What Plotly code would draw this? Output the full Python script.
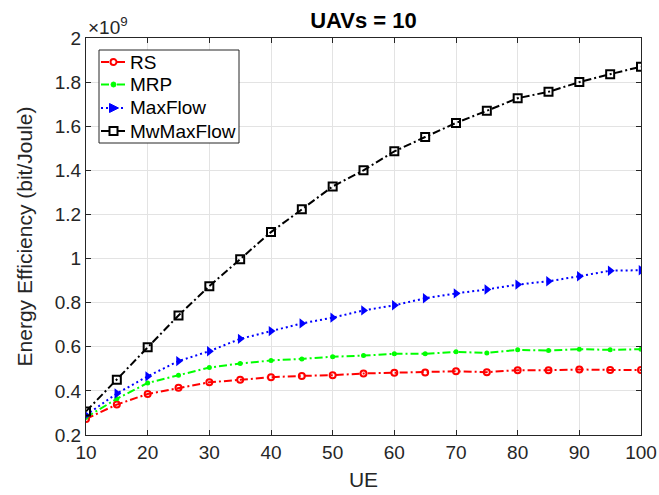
import plotly.graph_objects as go

ue = [10, 15, 20, 25, 30, 35, 40, 45, 50, 55, 60, 65, 70, 75, 80, 85, 90, 95, 100]
rs = [0.273, 0.338, 0.386, 0.414, 0.439, 0.450, 0.462, 0.468, 0.471, 0.479, 0.482, 0.483, 0.489, 0.485, 0.494, 0.494, 0.497, 0.495, 0.495]
mrp = [0.280, 0.364, 0.436, 0.471, 0.506, 0.524, 0.538, 0.545, 0.555, 0.560, 0.568, 0.568, 0.577, 0.572, 0.586, 0.583, 0.589, 0.586, 0.589]
maxflow = [0.290, 0.388, 0.466, 0.535, 0.580, 0.636, 0.671, 0.706, 0.732, 0.765, 0.788, 0.820, 0.842, 0.860, 0.882, 0.897, 0.920, 0.945, 0.947]
mwmaxflow = [0.307, 0.451, 0.598, 0.742, 0.875, 0.997, 1.120, 1.223, 1.327, 1.400, 1.486, 1.551, 1.615, 1.670, 1.727, 1.756, 1.800, 1.836, 1.870]

series_names = ["RS", "MRP", "MaxFlow", "MwMaxFlow"]
y_ticks = [0.2, 0.4, 0.6, 0.8, 1.0, 1.2, 1.4, 1.6, 1.8, 2.0]
y_ticklabels = ["0.2", "0.4", "0.6", "0.8", "1", "1.2", "1.4", "1.6", "1.8", "2"]
x_ticks = [10, 20, 30, 40, 50, 60, 70, 80, 90, 100]

FONT = "Liberation Sans, Arial, sans-serif"
W, H = 659, 495
ML, MR, MT, MB = 86, 18, 38, 60
PW, PH = W - ML - MR, H - MT - MB
DASHDOT = "8px,3px,2px,3px"

styles = [
    dict(line=dict(color="#FF0000", width=2, dash=DASHDOT),
         marker=dict(symbol="circle-open", size=6, color="#FF0000", line=dict(width=2))),
    dict(line=dict(color="#00FF00", width=2, dash=DASHDOT),
         marker=dict(symbol="circle", size=5, color="#00FF00")),
    dict(line=dict(color="#0000FF", width=2, dash="2px,3px"),
         marker=dict(symbol="triangle-right", size=9, color="#0000FF")),
    dict(line=dict(color="#000000", width=2, dash=DASHDOT),
         marker=dict(symbol="square-open", size=8, color="#000000", line=dict(width=2))),
]

fig = go.Figure()
for name, vals, st in zip(series_names, [rs, mrp, maxflow, mwmaxflow], styles):
    fig.add_trace(go.Scatter(x=ue, y=vals, name=name, mode="lines+markers",
                             showlegend=False, **st))

axis_common = dict(
    showline=True, linecolor="#262626", linewidth=1, mirror="ticks",
    ticks="inside", ticklen=5, tickcolor="#262626",
    showgrid=True, gridcolor="#E3E3E3", gridwidth=1,
    zeroline=False, automargin=False,
    tickfont=dict(family=FONT, size=19, color="#262626"),
)

fig.update_layout(
    width=W, height=H,
    margin=dict(l=ML, r=MR, t=MT, b=MB, autoexpand=False),
    paper_bgcolor="white", plot_bgcolor="white",
    font=dict(family=FONT, color="#262626"),
    title=dict(text="<b>UAVs = 10</b>", x=0.5, xanchor="center", xref="paper",
               y=1 - 20 / H, yanchor="middle", yref="container",
               font=dict(family=FONT, size=22, color="#000000")),
    xaxis=dict(range=[10, 100], tickvals=x_ticks,
               title=dict(text="UE", font=dict(family=FONT, size=21, color="#262626"), standoff=10),
               **axis_common),
    yaxis=dict(range=[0.2, 2.0], tickvals=y_ticks, ticktext=y_ticklabels,
               title=dict(text="Energy Efficiency (bit/Joule)", font=dict(family=FONT, size=21, color="#262626"), standoff=16),
               **axis_common),
    showlegend=False,
)

# exponent label
fig.add_annotation(text="×10<sup>9</sup>", xref="paper", yref="paper",
                   x=0.0, y=1.0, xanchor="left", yanchor="bottom", yshift=-2,
                   showarrow=False, font=dict(family=FONT, size=19, color="#262626"))

# manual legend (layout decoration; pixel positions converted to paper coords)
def px(xp):
    return (xp - ML) / PW

def py(yp):
    return (MT + PH - yp) / PH

fig.add_shape(type="rect", xref="paper", yref="paper",
              x0=px(99), x1=px(239), y0=py(143), y1=py(50),
              line=dict(color="#262626", width=1), fillcolor="white", layer="above")

rows = [62, 84.5, 108, 131]
for name, st, ry in zip(series_names, styles, rows):
    ln = st["line"]
    fig.add_shape(type="line", xref="paper", yref="paper",
                  x0=px(101), x1=px(125), y0=py(ry), y1=py(ry),
                  line=dict(color=ln["color"], width=2, dash=ln["dash"]), layer="above")
    cx = 113.5
    col = ln["color"]
    sym = st["marker"]["symbol"]
    if sym == "circle-open":
        fig.add_shape(type="circle", xref="paper", yref="paper",
                      x0=px(cx - 3), x1=px(cx + 3), y0=py(ry + 3), y1=py(ry - 3),
                      line=dict(color=col, width=2), fillcolor="white", layer="above")
    elif sym == "circle":
        fig.add_shape(type="circle", xref="paper", yref="paper",
                      x0=px(cx - 2.5), x1=px(cx + 2.5), y0=py(ry + 2.5), y1=py(ry - 2.5),
                      line=dict(color=col, width=1), fillcolor=col, layer="above")
    elif sym == "triangle-right":
        path = "M {} {} L {} {} L {} {} Z".format(
            px(cx - 4), py(ry - 4.5), px(cx + 5), py(ry), px(cx - 4), py(ry + 4.5))
        fig.add_shape(type="path", xref="paper", yref="paper", path=path,
                      line=dict(color=col, width=1), fillcolor=col, layer="above")
    else:
        fig.add_shape(type="rect", xref="paper", yref="paper",
                      x0=px(cx - 4), x1=px(cx + 4), y0=py(ry + 4), y1=py(ry - 4),
                      line=dict(color=col, width=2), fillcolor="white", layer="above")
    fig.add_annotation(text=name, xref="paper", yref="paper",
                       x=px(128), y=py(ry), xanchor="left", yanchor="middle",
                       showarrow=False, font=dict(family=FONT, size=19, color="#000000"))

fig.write_html("out.html")
